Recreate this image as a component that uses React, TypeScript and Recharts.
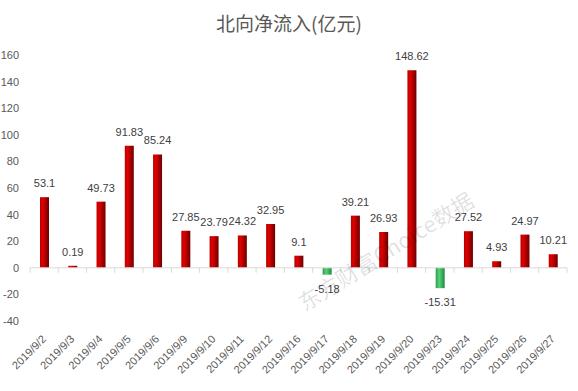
import { Bar, BarChart, Cell, LabelList, ReferenceLine, XAxis, YAxis } from "recharts";

const dates = [
	"2019/9/2", "2019/9/3", "2019/9/4", "2019/9/5", "2019/9/6", "2019/9/9", "2019/9/10",
	"2019/9/11", "2019/9/12", "2019/9/16", "2019/9/17", "2019/9/18", "2019/9/19", "2019/9/20",
	"2019/9/23", "2019/9/24", "2019/9/25", "2019/9/26", "2019/9/27",
];
const netInflow = [
	53.1, 0.19, 49.73, 91.83, 85.24, 27.85, 23.79, 24.32, 32.95, 9.1, -5.18, 39.21, 26.93, 148.62,
	-15.31, 27.52, 4.93, 24.97, 10.21,
];
const yTicks = [-40, -20, 0, 20, 40, 60, 80, 100, 120, 140, 160];

const title = "北向净流入(亿元)";
const watermark = "东方财富Choice数据";

const numFont = '"Liberation Sans", Arial, sans-serif';

const DateTick = ({ x, y, payload }: any) => (
	<g transform={`translate(${x},${y})`}>
		<text
			textAnchor="end"
			transform="rotate(-45)"
			dy="0.35em"
			fontSize={11}
			fontFamily={numFont}
			fill="#595959"
		>
			{payload.value}
		</text>
	</g>
);

const ValueLabel = ({ x, y, width, height, value }: any) => {
	const top = Math.min(y, y + height);
	const bottom = Math.max(y, y + height);
	const cx = x + width / 2;
	const ty = value >= 0 ? top - 10 : bottom + 18;
	return (
		<text x={cx} y={ty} textAnchor="middle" fontSize={11} fontFamily={numFont} fill="#404040">
			{value}
		</text>
	);
};

// zero line with small tick marks at the category boundaries
const ZeroAxis = (props: any) => {
	const { x1, y1, x2 } = props;
	const step = (x2 - x1) / dates.length;
	return (
		<g>
			<line x1={x1} y1={y1} x2={x2} y2={y1} stroke="#d9d9d9" strokeWidth={1} />
			{dates.map((_, i) => (
				<line key={i} x1={x1 + i * step} y1={y1} x2={x1 + i * step} y2={y1 + 5} stroke="#d9d9d9" />
			))}
			<line x1={x2} y1={y1} x2={x2} y2={y1 + 5} stroke="#d9d9d9" />
		</g>
	);
};

export default function App() {
	const data = dates.map((d, i) => ({ date: d, value: netInflow[i] }));
	return (
		<div style={{ position: "absolute", left: 0, top: 0, width: 578, height: 391, background: "#fff" }}>
			<div
				style={{
					position: "absolute",
					left: 0,
					top: 10,
					width: 578,
					textAlign: "center",
					fontFamily: '"Noto Sans CJK SC", sans-serif',
					fontSize: 19,
					lineHeight: "26px",
					color: "#595959",
				}}
			>
				{title}
			</div>
			<BarChart width={578} height={391} data={data} margin={{ top: 55, right: 11, left: 0, bottom: 0 }}>
				<defs>
					<linearGradient id="redGrad" x1="0" y1="0" x2="1" y2="0">
						<stop offset="0%" stopColor="#b80000" />
						<stop offset="30%" stopColor="#e00000" />
						<stop offset="100%" stopColor="#6e0000" />
					</linearGradient>
					<linearGradient id="greenGrad" x1="0" y1="0" x2="1" y2="0">
						<stop offset="0%" stopColor="#2e9a4c" />
						<stop offset="40%" stopColor="#55d27a" />
						<stop offset="100%" stopColor="#1c8a3c" />
					</linearGradient>
				</defs>
				<XAxis
					dataKey="date"
					interval={0}
					axisLine={false}
					tickLine={false}
					tickSize={0}
					tickMargin={16}
					height={70}
					tick={<DateTick />}
				/>
				<YAxis
					domain={[-40, 160]}
					ticks={yTicks}
					width={30}
					axisLine={false}
					tickLine={false}
					tickSize={0}
					tickMargin={11}
					tick={{ fontSize: 11, fill: "#595959", fontFamily: numFont }}
				/>
				<ReferenceLine y={0} shape={<ZeroAxis />} />
				<Bar dataKey="value" barSize={9} minPointSize={2} isAnimationActive={false}>
					{data.map((d, i) => (
						<Cell key={i} fill={d.value >= 0 ? "url(#redGrad)" : "url(#greenGrad)"} />
					))}
					<LabelList dataKey="value" content={<ValueLabel />} />
				</Bar>
			</BarChart>
			<div
				style={{
					position: "absolute",
					left: 385,
					top: 250,
					transform: "translate(-50%, -50%) rotate(-32deg)",
					whiteSpace: "nowrap",
					fontFamily: '"Noto Sans CJK SC", sans-serif',
					fontSize: 22,
					color: "rgba(0,0,0,0.13)",
					pointerEvents: "none",
				}}
			>
				{watermark}
			</div>
		</div>
	);
}
